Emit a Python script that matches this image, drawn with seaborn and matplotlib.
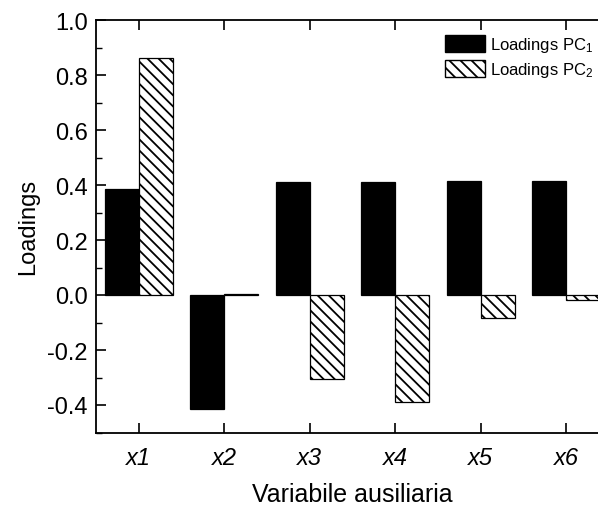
import matplotlib
matplotlib.use("Agg")
import matplotlib.pyplot as plt
import seaborn as sns
import pandas as pd
from matplotlib.patches import Patch
from matplotlib.ticker import MultipleLocator

categories = ["x1", "x2", "x3", "x4", "x5", "x6"]
pc1 = [0.385, -0.415, 0.412, 0.410, 0.415, 0.415]
pc2 = [0.862, 0.003, -0.305, -0.390, -0.085, -0.018]
series = ["Loadings PC$_1$", "Loadings PC$_2$"]
yticks = [-0.4, -0.2, 0.0, 0.2, 0.4, 0.6, 0.8, 1.0]

df = pd.DataFrame({
    "cat": categories * 2,
    "val": pc1 + pc2,
    "series": [series[0]] * len(categories) + [series[1]] * len(categories),
})

sns.set_style("ticks")
plt.rcParams["font.family"] = ["Liberation Sans", "DejaVu Sans"]
plt.rcParams["mathtext.default"] = "regular"
plt.rcParams["hatch.linewidth"] = 1.3
for k in ["text.color", "axes.labelcolor", "xtick.color", "ytick.color", "axes.edgecolor"]:
    plt.rcParams[k] = "black"

HATCH = "\\\\\\"

fig = plt.figure(figsize=(5.98, 5.06), dpi=100)
W, H = 598, 506
ax = fig.add_axes([96 / W, 1 - 433.5 / H, 513 / W, (433.5 - 21) / H])

sns.barplot(data=df, x="cat", y="val", hue="series", order=categories,
            hue_order=series, palette=["black", "white"], width=0.8,
            edgecolor="black", linewidth=0.9, saturation=1, legend=False, ax=ax)

n = len(categories)
for i, p in enumerate(ax.patches[:2 * n]):
    if i >= n:
        p.set_hatch(HATCH)
        p.set_facecolor("white")
        p.set_edgecolor("black")

ax.set_xlim(-0.5, 5.5)
ax.set_ylim(-0.5, 1.0)
ax.yaxis.set_minor_locator(MultipleLocator(0.1))
ax.set_yticks(yticks)
ax.set_yticklabels([f"{v:.1f}" for v in yticks])
ax.tick_params(axis="both", which="major", direction="in", length=7, width=1.2,
               top=True, right=True, labelsize=17, colors="black")
ax.tick_params(axis="y", which="minor", direction="in", length=4, width=1.0, right=True,
               colors="black")
ax.tick_params(axis="x", which="minor", bottom=False, top=False)
ax.tick_params(axis="x", pad=10)
ax.tick_params(axis="y", pad=6)
for lab in ax.get_xticklabels():
    lab.set_fontstyle("italic")
for s in ax.spines.values():
    s.set_linewidth(1.3)
    s.set_color("black")

ax.set_xlabel("Variabile ausiliaria", fontsize=18, labelpad=9, color="black")
ax.set_ylabel("Loadings", fontsize=17, labelpad=6, color="black")

handles = [Patch(facecolor="black", edgecolor="black", label=series[0]),
           Patch(facecolor="white", edgecolor="black", hatch=HATCH, label=series[1])]
ax.legend(handles=handles, loc="upper left", bbox_to_anchor=((438 - 96) / 513, 1 - 8 / 412.5),
          frameon=False, fontsize=12, handlelength=2.4, handleheight=1.2,
          handletextpad=0.3, labelspacing=0.35, borderaxespad=0)

fig.savefig("out.png", dpi=100)
